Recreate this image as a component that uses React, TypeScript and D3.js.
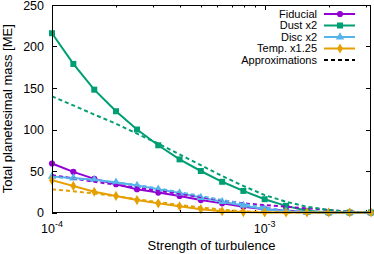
import { useEffect, useRef } from 'react'
import * as d3 from 'd3'

const alpha = [1.0e-4, 1.26e-4, 1.58e-4, 2.0e-4, 2.51e-4, 3.16e-4, 3.98e-4, 5.01e-4,
  6.31e-4, 7.94e-4, 1.0e-3, 1.26e-3, 1.58e-3, 2.0e-3, 2.51e-3, 3.16e-3]

const fiducial = [59, 49, 40.5, 34, 28, 24, 20, 15, 11, 7, 4, 2, 0.5, 0, 0, 0]
const dust = [216, 179, 148, 122, 100, 81, 64, 50, 37, 26, 16, 8, 2, 0, 0, 0]
const disc = [43.5, 41.5, 39.5, 36.5, 32.5, 28, 23.5, 18, 13, 8.5, 4, 1, 0, 0, 0, 0]
const temp = [39, 32, 25, 20, 15, 11, 7.5, 4, 1.5, 0.5, 0, 0, 0, 0, 0, 0]

const fiducialApprox = [45, 41, 37, 33.5, 30, 26, 22.5, 18.5, 14.5, 11, 9, 7, 5, 3, 1, 0]
const dustApprox = [140, 129, 118, 107, 95, 83, 70, 57, 44, 32, 21, 13, 7, 3, 1, 0]
const discApprox = [43, 41, 39, 36, 33, 29, 24.5, 20, 15, 10.5, 6, 2.5, 0.5, 0, 0, 0]
const tempApprox = [28, 25.5, 23, 19.5, 16, 12.5, 9, 6, 3.5, 1.5, 0.5, 0, 0, 0, 0, 0]

const yTicks = [0, 50, 100, 150, 200, 250]
const xMajor = [1e-4, 1e-3]
const xMinor = [2e-4, 3e-4, 4e-4, 5e-4, 6e-4, 7e-4, 8e-4, 9e-4, 2e-3, 3e-3]

const series = [
  { name: 'Fiducial', color: '#9400d3', marker: 'circle', values: fiducial, approx: fiducialApprox },
  { name: 'Dust x2', color: '#009e73', marker: 'square', values: dust, approx: dustApprox },
  { name: 'Disc x2', color: '#56b4e9', marker: 'triangle', values: disc, approx: discApprox },
  { name: 'Temp. x1.25', color: '#e69f00', marker: 'diamond', values: temp, approx: tempApprox },
]

const FONT = 'Liberation Sans, Arial, sans-serif'

export default function App() {
  const svgRef = useRef<SVGSVGElement>(null)
  const width = 374
  const height = 254

  useEffect(() => {
    if (!svgRef.current) return
    const svg = d3.select(svgRef.current)
    svg.selectAll('*').remove()

    const left = 52, right = 371, top = 5, bottom = 212.5

    const x = d3.scaleLog().domain([1e-4, Math.pow(10, -2.5)]).range([left, right])
    const y = d3.scaleLinear().domain([0, 250]).range([bottom, top])

    const symbols: Record<string, d3.SymbolType> = {
      circle: d3.symbolCircle,
      square: d3.symbolSquare,
      triangle: d3.symbolTriangle,
      diamond: d3.symbolDiamond,
    }
    const symSize: Record<string, number> = { circle: 30, square: 36, triangle: 30, diamond: 30 }

    // ticks (inward, mirrored)
    const tk = svg.append('g').attr('stroke', '#000').attr('stroke-width', 1)
    yTicks.forEach(v => {
      const yy = Math.round(y(v)) + 0.5
      tk.append('line').attr('x1', left).attr('x2', left + 5).attr('y1', yy).attr('y2', yy)
      tk.append('line').attr('x1', right - 5).attr('x2', right).attr('y1', yy).attr('y2', yy)
    })
    xMajor.forEach(v => {
      const xx = Math.round(x(v)) + 0.5
      tk.append('line').attr('x1', xx).attr('x2', xx).attr('y1', bottom).attr('y2', bottom - 5)
      tk.append('line').attr('x1', xx).attr('x2', xx).attr('y1', top).attr('y2', top + 5)
    })
    xMinor.forEach(v => {
      const xx = Math.round(x(v)) + 0.5
      tk.append('line').attr('x1', xx).attr('x2', xx).attr('y1', bottom).attr('y2', bottom - 2.5)
      tk.append('line').attr('x1', xx).attr('x2', xx).attr('y1', top).attr('y2', top + 2.5)
    })

    // tick labels
    yTicks.forEach(v => {
      svg.append('text')
        .attr('x', left - 8).attr('y', y(v)).attr('dy', '0.36em')
        .attr('text-anchor', 'end').attr('font-family', FONT).attr('font-size', 12.5)
        .text(v)
    })
    xMajor.forEach(v => {
      const t = svg.append('text')
        .attr('x', x(v)).attr('y', 232.5)
        .attr('text-anchor', 'middle').attr('font-family', FONT).attr('font-size', 12.5)
      t.append('tspan').text('10')
      t.append('tspan').attr('dy', -6).attr('font-size', 9).text(String(Math.round(Math.log10(v))))
    })

    // axis labels
    svg.append('text')
      .attr('x', (left + right) / 2).attr('y', 250)
      .attr('text-anchor', 'middle').attr('font-family', FONT).attr('font-size', 13)
      .text('Strength of turbulence')
    svg.append('text')
      .attr('transform', `translate(12,${(top + bottom) / 2}) rotate(-90)`)
      .attr('text-anchor', 'middle').attr('font-family', FONT).attr('font-size', 13)
      .text('Total planetesimal mass [ME]')

    const line = d3.line<number>()
      .x((_, i) => x(alpha[i]))
      .y(d => y(d))

    // solid series with markers
    series.forEach(s => {
      svg.append('path')
        .datum(s.values)
        .attr('d', line)
        .attr('fill', 'none')
        .attr('stroke', s.color)
        .attr('stroke-width', 2)
      svg.append('g').selectAll('path')
        .data(s.values)
        .join('path')
        .attr('d', d3.symbol().type(symbols[s.marker]).size(symSize[s.marker]))
        .attr('transform', (d, i) => `translate(${x(alpha[i])},${y(d)})`)
        .attr('fill', s.color)
    })

    // approximations
    series.forEach(s => {
      svg.append('path')
        .datum(s.approx)
        .attr('d', line)
        .attr('fill', 'none')
        .attr('stroke', s.color)
        .attr('stroke-width', 2)
        .attr('stroke-dasharray', '4,3')
    })

    // border
    svg.append('rect')
      .attr('x', left + 0.5).attr('y', top + 0.5)
      .attr('width', right - left - 1).attr('height', bottom - top - 0.5)
      .attr('fill', 'none').attr('stroke', '#000').attr('stroke-width', 1)

    // legend
    const lg = svg.append('g')
    const entries = [
      ...series.map(s => ({ name: s.name, color: s.color, marker: s.marker, dashed: false })),
      { name: 'Approximations', color: '#000', marker: '', dashed: true },
    ]
    entries.forEach((e, i) => {
      const yy = 14 + i * 11.5
      lg.append('text')
        .attr('x', 317).attr('y', yy).attr('dy', '0.36em')
        .attr('text-anchor', 'end').attr('font-family', FONT).attr('font-size', 11)
        .text(e.name)
      lg.append('line')
        .attr('x1', 324).attr('x2', 355).attr('y1', yy).attr('y2', yy)
        .attr('stroke', e.color).attr('stroke-width', 2)
        .attr('stroke-dasharray', e.dashed ? '4,3' : null)
      if (e.marker) {
        lg.append('path')
          .attr('d', d3.symbol().type(symbols[e.marker]).size(symSize[e.marker]))
          .attr('transform', `translate(340,${yy})`)
          .attr('fill', e.color)
      }
    })
  }, [])

  return (
    <svg
      ref={svgRef}
      width={width}
      height={height}
      style={{ position: 'absolute', left: 0, top: 0, background: '#fff' }}
    />
  )
}
